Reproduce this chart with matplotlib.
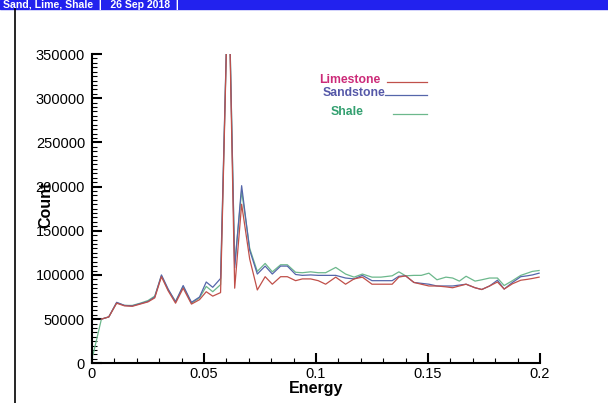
import numpy as np
import matplotlib
matplotlib.use("Agg")
import matplotlib.pyplot as plt
from matplotlib.ticker import MultipleLocator

plt.rcParams['font.family'] = ['Liberation Sans', 'DejaVu Sans']

# data
energy = [0.0005, 0.0042, 0.0075, 0.011, 0.0145, 0.018, 0.0215, 0.025, 0.028, 0.031,
          0.034, 0.0373, 0.0407, 0.0444, 0.048, 0.051, 0.0539, 0.0574, 0.0609, 0.0637,
          0.0668, 0.0704, 0.0738, 0.0773, 0.0805, 0.0842, 0.0872, 0.0909, 0.0939, 0.0976,
          0.101, 0.1043, 0.1088, 0.1132, 0.117, 0.1207, 0.125, 0.129, 0.134, 0.137,
          0.140, 0.1437, 0.147, 0.1504, 0.154, 0.158, 0.161, 0.164, 0.167, 0.171,
          0.174, 0.1775, 0.181, 0.184, 0.1877, 0.1914, 0.1943, 0.1966, 0.1996]

limestone = [np.nan, 50000, 52500, 68000, 65000, 64500, 67000, 69500, 74000, 98000,
             82000, 68000, 85000, 67000, 72000, 81000, 76000, 80000, 450000, 85000,
             180000, 118000, 83000, 98000, 89500, 98000, 98000, 93500, 95500, 95500,
             93500, 89500, 97500, 89500, 95500, 97500, 89500, 89500, 89500, 97500,
             99000, 91500, 89500, 87500, 87500, 86500, 85500, 87500, 89500, 85500,
             83500, 87500, 92000, 84000, 90000, 94000, 95000, 96000, 97500]

sandstone = [np.nan, 50000, 52500, 69000, 65500, 65000, 67500, 70000, 75000, 100000,
             84000, 69500, 88000, 69000, 75000, 92000, 86000, 96000, 450000, 108000,
             201000, 128000, 101000, 110000, 101000, 110000, 110000, 100500, 99500, 100000,
             99500, 99500, 99500, 96500, 95500, 99500, 93500, 93500, 93500, 98500,
             99000, 91500, 90500, 89500, 87500, 87500, 87500, 88500, 89500, 85500,
             83500, 87500, 94000, 84000, 91500, 98000, 99000, 100000, 102000]

shale = [10000, 50000, 52500, 68500, 65500, 65500, 68000, 71000, 76000, 99000,
         83000, 70000, 87000, 68000, 74000, 87000, 81000, 89000, 450000, 112000,
         195000, 130000, 104000, 113000, 103500, 111500, 111500, 103000, 102500, 103500,
         102500, 102500, 108500, 101000, 97500, 101000, 97500, 97500, 99000, 103500,
         99000, 99500, 99500, 102000, 94500, 97500, 96500, 93000, 98500, 93000,
         94500, 96500, 96500, 88000, 93500, 99500, 102000, 104000, 105000]

fig = plt.figure(figsize=(6.08, 4.03), dpi=100)
ax = fig.add_axes([92/608, 1-363.3/403, 448/608, 309.3/403])

ax.plot(energy, shale, color='#6cb88c', lw=0.9)
ax.plot(energy, sandstone, color='#5566aa', lw=0.9)
ax.plot(energy, limestone, color='#c0504a', lw=0.9)

ax.set_xlim(0, 0.2)
ax.set_ylim(0, 350000)
ax.xaxis.set_major_locator(MultipleLocator(0.05))
ax.xaxis.set_minor_locator(MultipleLocator(0.01))
ax.yaxis.set_major_locator(MultipleLocator(50000))
ax.yaxis.set_minor_locator(MultipleLocator(5000))
ax.set_xticks([0, 0.05, 0.1, 0.15, 0.2])
ax.set_xticklabels(['0', '0.05', '0.1', '0.15', '0.2'])
ax.tick_params(which='major', direction='in', length=7, width=1.5, labelsize=10.5)
ax.tick_params(axis='y', which='major', pad=5)
ax.tick_params(axis='x', which='major', pad=3)
ax.tick_params(which='minor', direction='in', length=3.5, width=0.8)
for s in ['top', 'right']:
    ax.spines[s].set_visible(False)
for s in ['left', 'bottom']:
    ax.spines[s].set_linewidth(1.5)

ax.set_xlabel('Energy', fontsize=11.5, fontweight='bold', labelpad=0)
fig.text(46/608, 1-205/403, 'Count', rotation=90, fontsize=11.5, fontweight='bold',
         ha='center', va='center')

# legend drawn as in the original
legend_items = [('Limestone', '#cc2a78', '#c0504a', 350, 80, 387),
                ('Sandstone', '#5558a8', '#5566aa', 354, 93, 385),
                ('Shale', '#33a070', '#6cb88c', 347, 112, 393)]
for name, tc, lc, tx, ty, lx in legend_items:
    fig.text(tx/608, 1-ty/403, name, color=tc, fontsize=8.8, fontweight='bold',
             ha='center', va='center')
    fig.add_artist(plt.Line2D([lx/608, 427/608], [1-(ty+2)/403, 1-(ty+2)/403],
                              color=lc, lw=0.9))

# header bar and left border
fig.patches.append(plt.Rectangle((0, 1-9/403), 1, 9/403, transform=fig.transFigure,
                                 color='#2222ee', zorder=0))
fig.text(3/608, 1-4.5/403, 'Sand, Lime, Shale  |   26 Sep 2018  |', color='white',
         fontsize=7.6, fontweight='bold', va='center', ha='left')
fig.add_artist(plt.Line2D([14.5/608, 14.5/608], [0, 1-9/403], color='black', lw=1.2))

fig.savefig('out.png', dpi=100)
